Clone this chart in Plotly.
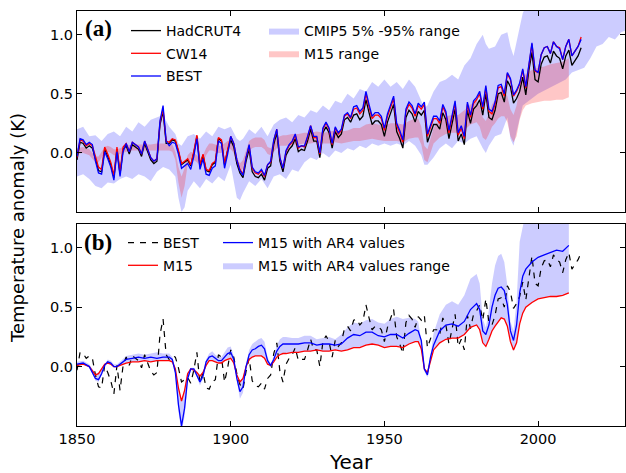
import plotly.graph_objects as go

# ---------------- data ----------------
YEARS = list(range(1850, 2015))

HADCRUT4 = [
    -0.06, 0.09, 0.08, 0.04, 0.06, 0.04, -0.05, -0.15, -0.16, 0.03,
    -0.03, -0.10, -0.21, 0.03, -0.18, 0.03, 0.06, -0.01, 0.07, 0.05,
    0.03, -0.03, 0.08, 0.01, -0.06, -0.09, -0.07, 0.24, 0.35, 0.08,
    0.08, 0.11, 0.10, 0.01, -0.10, -0.08, -0.06, -0.11, 0.00, 0.14,
    -0.11, -0.02, -0.15, -0.16, -0.10, -0.08, 0.12, 0.10, -0.10, 0.02,
    0.11, 0.05, -0.09, -0.17, -0.21, -0.07, 0.03, -0.16, -0.20, -0.21,
    -0.18, -0.23, -0.13, -0.11, 0.07, 0.17, -0.07, -0.16, -0.02, 0.03,
    0.06, 0.12, 0.01, 0.03, 0.02, 0.10, 0.20, 0.10, 0.10, -0.04,
    0.17, 0.22, 0.17, 0.04, 0.18, 0.13, 0.16, 0.28, 0.30, 0.26,
    0.32, 0.33, 0.28, 0.31, 0.45, 0.34, 0.24, 0.27, 0.27, 0.24,
    0.14, 0.26, 0.34, 0.41, 0.18, 0.12, 0.04, 0.30, 0.36, 0.33,
    0.26, 0.35, 0.32, 0.36, 0.09, 0.17, 0.24, 0.24, 0.20, 0.34,
    0.28, 0.12, 0.25, 0.37, 0.10, 0.16, 0.07, 0.36, 0.25, 0.37,
    0.40, 0.45, 0.32, 0.50, 0.30, 0.28, 0.36, 0.50, 0.51, 0.43,
    0.61, 0.56, 0.42, 0.46, 0.52, 0.64, 0.49, 0.70, 0.85, 0.62,
    0.60, 0.75, 0.81, 0.82, 0.76, 0.86, 0.82, 0.80, 0.71, 0.82,
    0.87, 0.74, 0.78, 0.82, 0.89,
]

CW14 = [
    -0.04, 0.11, 0.10, 0.06, 0.08, 0.06, -0.03, -0.12, -0.14, 0.05,
    -0.01, -0.08, -0.19, 0.05, -0.16, 0.05, 0.08, 0.01, 0.09, 0.07,
    0.05, -0.01, 0.10, 0.03, -0.04, -0.07, -0.05, 0.26, 0.37, 0.10,
    0.09, 0.12, 0.11, 0.02, -0.09, -0.07, -0.05, -0.10, 0.01, 0.15,
    -0.10, -0.01, -0.14, -0.15, -0.09, -0.07, 0.13, 0.11, -0.09, 0.03,
    0.14, 0.08, -0.06, -0.14, -0.18, -0.04, 0.06, -0.13, -0.17, -0.18,
    -0.15, -0.20, -0.10, -0.08, 0.10, 0.20, -0.04, -0.13, 0.01, 0.06,
    0.09, 0.15, 0.04, 0.06, 0.05, 0.13, 0.23, 0.13, 0.13, -0.01,
    0.20, 0.25, 0.20, 0.07, 0.21, 0.16, 0.19, 0.31, 0.33, 0.29,
    0.37, 0.38, 0.33, 0.36, 0.50, 0.39, 0.29, 0.32, 0.32, 0.29,
    0.19, 0.31, 0.39, 0.46, 0.23, 0.17, 0.09, 0.35, 0.41, 0.38,
    0.31, 0.40, 0.37, 0.41, 0.14, 0.22, 0.29, 0.29, 0.25, 0.39,
    0.33, 0.17, 0.30, 0.42, 0.15, 0.21, 0.12, 0.41, 0.30, 0.42,
    0.45, 0.50, 0.37, 0.55, 0.35, 0.33, 0.41, 0.55, 0.56, 0.48,
    0.67, 0.62, 0.48, 0.52, 0.58, 0.70, 0.55, 0.76, 0.92, 0.69,
    0.68, 0.83, 0.89, 0.90, 0.84, 0.94, 0.90, 0.89, 0.79, 0.90,
    0.96, 0.82, 0.86, 0.90, 0.98,
]

BEST = [
    -0.03, 0.12, 0.11, 0.07, 0.09, 0.07, -0.07, -0.17, -0.18, 0.01,
    -0.05, -0.12, -0.23, 0.01, -0.20, 0.01, 0.08, 0.01, 0.09, 0.07,
    0.05, -0.01, 0.10, 0.03, -0.04, -0.07, -0.05, 0.27, 0.40, 0.10,
    0.06, 0.09, 0.08, -0.01, -0.13, -0.11, -0.09, -0.14, -0.03, 0.12,
    -0.14, -0.05, -0.18, -0.19, -0.13, -0.11, 0.10, 0.08, -0.13, -0.01,
    0.14, 0.08, -0.06, -0.15, -0.19, -0.04, 0.07, -0.12, -0.16, -0.17,
    -0.14, -0.19, -0.10, -0.07, 0.11, 0.20, -0.04, -0.13, 0.02, 0.07,
    0.10, 0.16, 0.05, 0.06, 0.06, 0.14, 0.23, 0.14, 0.14, 0.00,
    0.21, 0.26, 0.21, 0.08, 0.22, 0.17, 0.20, 0.32, 0.34, 0.30,
    0.39, 0.40, 0.35, 0.38, 0.52, 0.41, 0.31, 0.34, 0.34, 0.31,
    0.21, 0.33, 0.41, 0.48, 0.25, 0.19, 0.11, 0.37, 0.43, 0.40,
    0.33, 0.42, 0.39, 0.43, 0.16, 0.24, 0.31, 0.31, 0.27, 0.41,
    0.35, 0.19, 0.32, 0.44, 0.17, 0.23, 0.14, 0.43, 0.32, 0.44,
    0.47, 0.52, 0.39, 0.57, 0.37, 0.35, 0.43, 0.57, 0.58, 0.50,
    0.68, 0.63, 0.49, 0.53, 0.59, 0.71, 0.56, 0.77, 0.93, 0.70,
    0.68, 0.83, 0.89, 0.90, 0.84, 0.94, 0.90, 0.88, 0.79, 0.90,
    0.96, 0.82, 0.86, 0.90, 0.96,
]

CMIP_YEARS = [
    1850, 1852, 1854, 1856, 1858, 1860, 1862, 1864, 1866, 1868,
    1870, 1872, 1874, 1876, 1878, 1880, 1882, 1883, 1884, 1885,
    1886, 1888, 1890, 1892, 1894, 1896, 1898, 1900, 1902, 1903,
    1904, 1906, 1908, 1910, 1912, 1914, 1916, 1918, 1920, 1922,
    1924, 1926, 1928, 1930, 1932, 1934, 1936, 1938, 1940, 1942,
    1944, 1946, 1948, 1950, 1952, 1954, 1956, 1958, 1960, 1962,
    1963, 1964, 1966, 1968, 1970, 1972, 1974, 1976, 1978, 1980,
    1982, 1983, 1984, 1986, 1988, 1990, 1991, 1992, 1993, 1995,
    1997, 2000, 2003, 2006, 2009, 2011, 2013, 2015, 2017, 2019,
    2021, 2023, 2025, 2027, 2029, 2030,
]
CMIP_LOW = [
    -0.20, -0.18, -0.22, -0.28, -0.30, -0.25, -0.26, -0.22, -0.20, -0.22,
    -0.18, -0.20, -0.24, -0.16, -0.12, -0.14, -0.20, -0.38, -0.50, -0.46,
    -0.32, -0.24, -0.30, -0.22, -0.26, -0.20, -0.24, -0.10, -0.38, -0.40,
    -0.34, -0.24, -0.28, -0.22, -0.30, -0.20, -0.18, -0.22, -0.14, -0.16,
    -0.08, -0.04, -0.06, 0.00, -0.04, 0.02, 0.00, 0.04, 0.02, 0.06,
    0.04, 0.08, 0.06, 0.08, 0.06, 0.08, 0.06, 0.10, 0.06, -0.02,
    -0.10, -0.10, -0.04, 0.04, 0.08, 0.04, 0.10, 0.08, 0.12, 0.14,
    0.04, 0.00, 0.06, 0.14, 0.16, 0.30, 0.12, 0.06, 0.18, 0.40,
    0.44, 0.50, 0.54, 0.58, 0.62, 0.68, 0.70, 0.72, 0.80, 0.90,
    0.92, 0.98, 0.96, 1.02, 1.04, 1.06,
]
CMIP_HIGH = [
    0.20, 0.22, 0.14, 0.15, 0.10, 0.16, 0.18, 0.14, 0.22, 0.18,
    0.26, 0.22, 0.28, 0.30, 0.32, 0.22, 0.16, 0.08, 0.06, 0.10,
    0.14, 0.16, 0.12, 0.18, 0.14, 0.22, 0.20, 0.22, 0.12, 0.10,
    0.12, 0.20, 0.16, 0.22, 0.14, 0.24, 0.28, 0.30, 0.26, 0.32,
    0.30, 0.36, 0.34, 0.40, 0.36, 0.44, 0.42, 0.50, 0.46, 0.54,
    0.52, 0.60, 0.56, 0.62, 0.56, 0.60, 0.54, 0.62, 0.56, 0.44,
    0.38, 0.40, 0.52, 0.60, 0.62, 0.66, 0.62, 0.74, 0.80, 0.92,
    1.00, 0.92, 0.88, 0.90, 1.00, 1.02, 0.90, 0.82, 0.94, 1.18,
    1.30, 1.35, 1.40, 1.45, 1.50, 1.50, 1.55, 1.55, 1.60, 1.60,
    1.65, 1.65, 1.70, 1.70, 1.75, 1.75,
]

M15_YEARS = [
    1850, 1852, 1854, 1855, 1856, 1857, 1858, 1859, 1860, 1861,
    1862, 1863, 1864, 1866, 1868, 1870, 1872, 1874, 1876, 1878,
    1880, 1881, 1882, 1883, 1884, 1885, 1886, 1887, 1888, 1889,
    1890, 1891, 1892, 1893, 1894, 1895, 1896, 1897, 1898, 1899,
    1900, 1901, 1902, 1903, 1904, 1905, 1906, 1907, 1908, 1909,
    1910, 1911, 1912, 1913, 1914, 1915, 1916, 1917, 1918, 1920,
    1922, 1924, 1926, 1928, 1930, 1932, 1934, 1936, 1938, 1940,
    1942, 1944, 1946, 1948, 1950, 1952, 1954, 1956, 1958, 1960,
    1961, 1962, 1963, 1964, 1965, 1966, 1968, 1970, 1972, 1974,
    1976, 1978, 1980, 1981, 1982, 1983, 1984, 1985, 1986, 1987,
    1988, 1989, 1990, 1991, 1992, 1993, 1994, 1995, 1996, 1998,
    2000, 2002, 2004, 2006, 2008, 2010,
]

# panel (a) M15 range
M15A_LOW = [
    -0.01, 0.00, -0.02, -0.05, -0.08, -0.08, -0.04, 0.00, 0.01, 0.00,
    -0.02, -0.02, -0.01, 0.01, 0.02, 0.02, 0.02, 0.02, 0.02, 0.02,
    0.02, 0.01, -0.06, -0.25, -0.38, -0.28, -0.10, -0.05, -0.06, -0.08,
    -0.11, -0.08, -0.02, 0.02, 0.02, 0.01, 0.00, 0.00, 0.02, 0.03,
    0.03, 0.00, -0.10, -0.16, -0.13, -0.03, 0.02, 0.04, 0.05, 0.05,
    0.05, 0.03, -0.01, -0.02, 0.01, 0.04, 0.06, 0.06, 0.06, 0.07,
    0.07, 0.08, 0.08, 0.09, 0.08, 0.08, 0.09, 0.08, 0.09, 0.10,
    0.10, 0.11, 0.12, 0.11, 0.10, 0.10, 0.10, 0.09, 0.12, 0.13,
    0.13, 0.07, -0.06, -0.08, 0.00, 0.08, 0.13, 0.16, 0.17, 0.17,
    0.19, 0.24, 0.26, 0.22, 0.13, 0.11, 0.16, 0.22, 0.25, 0.29,
    0.31, 0.31, 0.26, 0.14, 0.09, 0.14, 0.28, 0.36, 0.40, 0.42,
    0.43, 0.44, 0.44, 0.45, 0.45, 0.47,
]
M15A_HIGH = [
    0.04, 0.05, 0.03, 0.00, -0.03, -0.03, 0.01, 0.05, 0.06, 0.05,
    0.03, 0.03, 0.04, 0.06, 0.07, 0.07, 0.07, 0.07, 0.08, 0.08,
    0.08, 0.07, 0.01, -0.12, -0.20, -0.13, -0.02, 0.01, 0.00, -0.02,
    -0.05, -0.02, 0.04, 0.08, 0.08, 0.07, 0.06, 0.06, 0.08, 0.10,
    0.11, 0.07, -0.04, -0.09, -0.06, 0.03, 0.10, 0.12, 0.13, 0.13,
    0.13, 0.11, 0.05, 0.04, 0.08, 0.12, 0.14, 0.15, 0.15, 0.16,
    0.16, 0.17, 0.17, 0.18, 0.17, 0.18, 0.19, 0.18, 0.19, 0.21,
    0.21, 0.24, 0.25, 0.24, 0.23, 0.25, 0.25, 0.24, 0.27, 0.29,
    0.29, 0.22, 0.06, 0.03, 0.12, 0.21, 0.28, 0.31, 0.32, 0.32,
    0.36, 0.41, 0.44, 0.40, 0.30, 0.27, 0.33, 0.41, 0.45, 0.50,
    0.53, 0.53, 0.48, 0.37, 0.32, 0.40, 0.55, 0.62, 0.67, 0.70,
    0.72, 0.73, 0.75, 0.76, 0.77, 0.80,
]

# panel (b)
M15 = [
    0.01, 0.02, 0.00, -0.04, -0.07, -0.06, -0.02, 0.02, 0.03, 0.02,
    0.00, 0.00, 0.01, 0.03, 0.04, 0.04, 0.05, 0.04, 0.05, 0.05,
    0.05, 0.04, -0.02, -0.18, -0.29, -0.20, -0.06, -0.02, -0.03, -0.05,
    -0.08, -0.05, 0.01, 0.05, 0.05, 0.04, 0.03, 0.03, 0.05, 0.06,
    0.07, 0.03, -0.07, -0.13, -0.10, 0.00, 0.06, 0.08, 0.09, 0.09,
    0.09, 0.07, 0.02, 0.01, 0.04, 0.08, 0.10, 0.11, 0.11, 0.12,
    0.12, 0.13, 0.13, 0.14, 0.13, 0.13, 0.14, 0.13, 0.14, 0.16,
    0.16, 0.18, 0.19, 0.18, 0.16, 0.17, 0.17, 0.16, 0.19, 0.21,
    0.21, 0.15, -0.02, -0.05, 0.05, 0.14, 0.20, 0.23, 0.24, 0.24,
    0.27, 0.33, 0.35, 0.31, 0.20, 0.17, 0.23, 0.30, 0.34, 0.38,
    0.41, 0.40, 0.34, 0.21, 0.14, 0.20, 0.36, 0.45, 0.50, 0.54,
    0.57, 0.58, 0.59, 0.59, 0.60, 0.62,
]
M15_AR4 = [
    0.02, 0.03, 0.00, -0.05, -0.10, -0.11, -0.06, 0.01, 0.04, 0.03,
    0.00, 0.00, 0.02, 0.06, 0.07, 0.08, 0.07, 0.08, 0.07, 0.08,
    0.08, 0.06, -0.05, -0.32, -0.50, -0.35, -0.10, -0.02, -0.02, -0.07,
    -0.13, -0.08, 0.04, 0.08, 0.09, 0.07, 0.05, 0.05, 0.08, 0.11,
    0.12, 0.06, -0.10, -0.21, -0.17, 0.00, 0.10, 0.14, 0.15, 0.17,
    0.18, 0.15, 0.05, 0.01, 0.06, 0.13, 0.17, 0.19, 0.19, 0.19,
    0.19, 0.20, 0.20, 0.18, 0.19, 0.19, 0.18, 0.19, 0.24, 0.27,
    0.26, 0.29, 0.29, 0.26, 0.25, 0.27, 0.27, 0.24, 0.28, 0.31,
    0.30, 0.22, -0.02, -0.07, 0.08, 0.18, 0.30, 0.35, 0.36, 0.34,
    0.38, 0.48, 0.53, 0.48, 0.30, 0.27, 0.35, 0.50, 0.60, 0.66,
    0.67, 0.64, 0.52, 0.30, 0.22, 0.35, 0.62, 0.76, 0.82, 0.88,
    0.92, 0.94, 0.96, 0.98, 0.97, 1.02,
]
M15_AR4_LOW = [
    0.01, 0.02, 0.00, -0.06, -0.12, -0.13, -0.07, 0.01, 0.03, 0.02,
    0.00, 0.00, 0.01, 0.03, 0.04, 0.04, 0.05, 0.04, 0.05, 0.05,
    0.05, 0.04, -0.07, -0.38, -0.55, -0.42, -0.13, -0.03, -0.03, -0.09,
    -0.16, -0.10, 0.01, 0.05, 0.05, 0.04, 0.03, 0.03, 0.05, 0.06,
    0.07, 0.03, -0.13, -0.27, -0.22, -0.01, 0.06, 0.08, 0.09, 0.09,
    0.09, 0.07, 0.02, 0.00, 0.04, 0.08, 0.10, 0.11, 0.11, 0.12,
    0.12, 0.13, 0.13, 0.14, 0.13, 0.13, 0.14, 0.13, 0.14, 0.16,
    0.16, 0.18, 0.19, 0.18, 0.16, 0.17, 0.17, 0.16, 0.19, 0.21,
    0.21, 0.13, -0.04, -0.09, 0.05, 0.14, 0.20, 0.23, 0.24, 0.24,
    0.27, 0.33, 0.35, 0.31, 0.20, 0.17, 0.23, 0.30, 0.34, 0.38,
    0.41, 0.40, 0.34, 0.21, 0.13, 0.20, 0.36, 0.45, 0.50, 0.54,
    0.57, 0.58, 0.59, 0.59, 0.60, 0.62,
]
M15_AR4_HIGH = [
    0.04, 0.05, 0.02, -0.02, -0.06, -0.05, -0.01, 0.03, 0.06, 0.05,
    0.02, 0.02, 0.04, 0.09, 0.10, 0.11, 0.10, 0.11, 0.12, 0.11,
    0.11, 0.08, -0.01, -0.17, -0.28, -0.19, -0.05, -0.01, -0.01, -0.04,
    -0.07, -0.04, 0.06, 0.11, 0.13, 0.10, 0.08, 0.08, 0.12, 0.16,
    0.17, 0.09, -0.06, -0.12, -0.09, 0.02, 0.14, 0.19, 0.21, 0.23,
    0.24, 0.21, 0.08, 0.02, 0.09, 0.18, 0.23, 0.25, 0.25, 0.24,
    0.24, 0.26, 0.26, 0.23, 0.24, 0.25, 0.23, 0.27, 0.33, 0.37,
    0.36, 0.39, 0.40, 0.37, 0.36, 0.40, 0.42, 0.40, 0.41, 0.40,
    0.38, 0.22, -0.01, -0.04, 0.10, 0.28, 0.44, 0.52, 0.55, 0.52,
    0.60, 0.74, 0.78, 0.70, 0.40, 0.33, 0.48, 0.70, 0.85, 0.93,
    0.95, 0.88, 0.68, 0.38, 0.30, 0.55, 1.05, 1.20, 1.30, 1.35,
    1.40, 1.42, 1.44, 1.45, 1.45, 1.45,
]

# ---------------- style ----------------
BLUE_FILL = "rgba(0,0,255,0.2)"
RED_FILL = "rgba(255,0,0,0.22)"
FONT = "DejaVu Sans"

fig = go.Figure()

# ---- panel (a) ----
fig.add_trace(go.Scatter(x=CMIP_YEARS, y=CMIP_LOW, mode="lines", line=dict(width=0),
                         showlegend=False, hoverinfo="skip", xaxis="x", yaxis="y"))
fig.add_trace(go.Scatter(x=CMIP_YEARS, y=CMIP_HIGH, mode="lines", line=dict(width=0),
                         fill="tonexty", fillcolor=BLUE_FILL, name="CMIP5 5% -95% range",
                         legend="legend2", legendgroup="c1", legendrank=1, xaxis="x", yaxis="y"))
fig.add_trace(go.Scatter(x=M15_YEARS, y=M15A_LOW, mode="lines", line=dict(width=0),
                         showlegend=False, hoverinfo="skip", xaxis="x", yaxis="y"))
fig.add_trace(go.Scatter(x=M15_YEARS, y=M15A_HIGH, mode="lines", line=dict(width=0),
                         fill="tonexty", fillcolor=RED_FILL, name="M15 range",
                         legend="legend2", legendgroup="c2", legendrank=2, xaxis="x", yaxis="y"))
fig.add_trace(go.Scatter(x=YEARS, y=HADCRUT4, mode="lines", line=dict(color="black", width=1.3),
                         name="HadCRUT4", legend="legend", legendgroup="a1", legendrank=1,
                         xaxis="x", yaxis="y"))
fig.add_trace(go.Scatter(x=YEARS, y=CW14, mode="lines", line=dict(color="red", width=1.3),
                         name="CW14", legend="legend", legendgroup="a2", legendrank=2,
                         xaxis="x", yaxis="y"))
fig.add_trace(go.Scatter(x=YEARS, y=BEST, mode="lines", line=dict(color="blue", width=1.3),
                         name="BEST", legend="legend", legendgroup="a3", legendrank=3,
                         xaxis="x", yaxis="y"))

# ---- panel (b) ----
fig.add_trace(go.Scatter(x=M15_YEARS, y=M15_AR4_LOW, mode="lines", line=dict(width=0),
                         showlegend=False, hoverinfo="skip", xaxis="x2", yaxis="y2"))
fig.add_trace(go.Scatter(x=M15_YEARS, y=M15_AR4_HIGH, mode="lines", line=dict(width=0),
                         fill="tonexty", fillcolor=BLUE_FILL, name="M15 with AR4 values range",
                         legend="legend4", legendgroup="d2", legendrank=2, xaxis="x2", yaxis="y2"))
fig.add_trace(go.Scatter(x=YEARS, y=BEST, mode="lines",
                         line=dict(color="black", width=1.2, dash="6px,6px"),
                         name="BEST", legend="legend3", legendgroup="b1", legendrank=1,
                         xaxis="x2", yaxis="y2"))
fig.add_trace(go.Scatter(x=M15_YEARS, y=M15, mode="lines", line=dict(color="red", width=1.3),
                         name="M15", legend="legend3", legendgroup="b2", legendrank=2,
                         xaxis="x2", yaxis="y2"))
fig.add_trace(go.Scatter(x=M15_YEARS, y=M15_AR4, mode="lines", line=dict(color="blue", width=1.3),
                         name="M15 with AR4 values", legend="legend4", legendgroup="d1",
                         legendrank=1, xaxis="x2", yaxis="y2"))

# ---------------- layout ----------------
L, R, T, B = 77, 1, 11, 47
W, H = 626, 473
PW, PH = W - L - R, H - T - B


def px_x(p):
    return (p - L) / PW


def px_y(p):
    return (H - B - p) / PH


axis_common = dict(showline=True, linecolor="black", linewidth=1, mirror="ticks",
                   ticks="inside", ticklen=5, tickcolor="black", showgrid=False,
                   zeroline=False, tickfont=dict(family=FONT, size=14.5, color="black"))

x_range = [1850, 1850 + PW / 3.074]
fig.update_layout(
    width=W, height=H,
    margin=dict(l=L, r=R, t=T, b=B, autoexpand=False),
    paper_bgcolor="white", plot_bgcolor="white",
    font=dict(family=FONT, size=14, color="black"),
    xaxis=dict(domain=[0, 1], range=x_range, anchor="y", showticklabels=False,
               tickvals=[1850, 1900, 1950, 2000], **axis_common),
    yaxis=dict(domain=[px_y(212), 1], range=[-0.5, 1.2], anchor="x",
               tickvals=[0.0, 0.5, 1.0], ticktext=["0.0", "0.5", "1.0"], **axis_common),
    xaxis2=dict(domain=[0, 1], range=x_range, anchor="y2",
                tickvals=[1850, 1900, 1950, 2000], **axis_common),
    yaxis2=dict(domain=[0, px_y(224)], range=[-0.5, 1.2], anchor="x2",
                tickvals=[0.0, 0.5, 1.0], ticktext=["0.0", "0.5", "1.0"], **axis_common),
    showlegend=True,
)

leg_common = dict(bgcolor="rgba(0,0,0,0)", borderwidth=0, xanchor="left", yanchor="top",
                  traceorder="grouped", tracegroupgap=1.5, itemwidth=30,
                  font=dict(family=FONT, size=14, color="black"), itemclick=False)
fig.update_layout(
    legend=dict(x=px_x(126), y=px_y(15), **leg_common),
    legend2=dict(x=px_x(264), y=px_y(15), **leg_common),
    legend3=dict(x=px_x(123), y=px_y(227), **leg_common),
    legend4=dict(x=px_x(218), y=px_y(227), **leg_common),
)

ann_common = dict(xref="paper", yref="paper", showarrow=False,
                  xanchor="center", yanchor="middle")
annotations = [
    dict(text="<b>(a)</b>", x=px_x(98), y=px_y(28),
         font=dict(family="Liberation Serif", size=23, color="black"), **ann_common),
    dict(text="<b>(b)</b>", x=px_x(98), y=px_y(242),
         font=dict(family="Liberation Serif", size=23, color="black"), **ann_common),
    dict(text="Temperature anomaly (K)", x=px_x(18), y=px_y(228), textangle=-90,
         font=dict(family=FONT, size=18, color="black"), **ann_common),
    dict(text="Year", x=px_x(351), y=px_y(462),
         font=dict(family=FONT, size=20, color="black"), **ann_common),
]
fig.update_layout(annotations=annotations)

fig.write_html("out.html", config={"displayModeBar": False},
               post_script="document.body.style.margin='0';document.body.style.overflow='hidden';")
